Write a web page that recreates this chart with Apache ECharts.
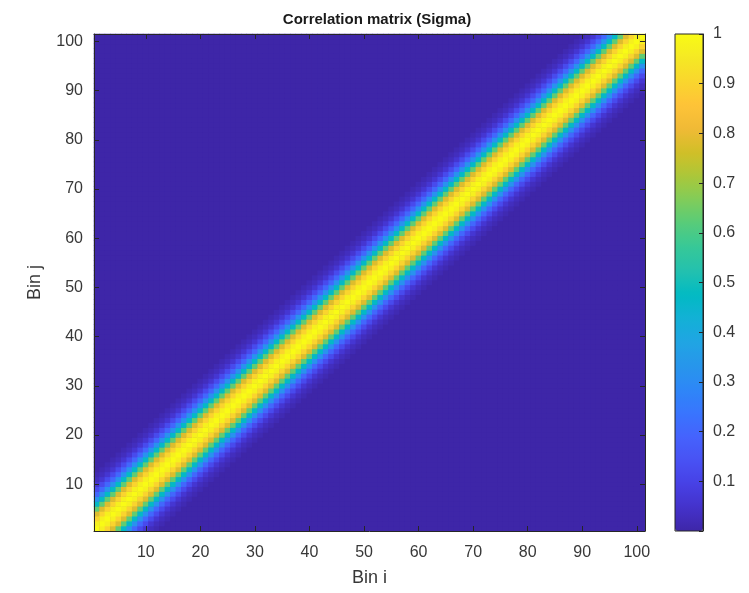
<!DOCTYPE html>
<html>
<head>
<meta charset="utf-8">
<script src="https://cdn.jsdelivr.net/npm/echarts@6/dist/echarts.min.js"></script>
<style>
  html, body { margin: 0; padding: 0; background: #ffffff; }
  #chart { width: 749px; height: 593px; }
</style>
</head>
<body>
<div id="chart"></div>
<script>
// Bin indices used on both axes (1 ... 101)
const bins = [];
for (let b = 1; b <= 101; b++) bins.push(String(b));

// Correlation between two bins as a function of their separation |i - j|
const corrByLag = [1.00, 0.97, 0.90, 0.78, 0.63, 0.47, 0.32, 0.20, 0.12, 0.06, 0.03, 0.015];

// Labelled ticks on the matrix axes and on the colour bar
const axisTicks = [10, 20, 30, 40, 50, 60, 70, 80, 90, 100];
const colorbarTicks = [0.1, 0.2, 0.3, 0.4, 0.5, 0.6, 0.7, 0.8, 0.9, 1];

// Parula colour map
const parula = [
  '#3e26a8', '#4432cb', '#4741e5', '#4852f4', '#4563fd', '#3875fe',
  '#2e87f7', '#2796eb', '#20a5e3', '#12b1d6', '#02bac3', '#24c1ae',
  '#37c897', '#57cc7a', '#81cc59', '#abc739', '#d1bf27', '#f0ba36',
  '#fec338', '#fad62d', '#f5e924', '#f9fb15'
];

// Symmetric Toeplitz matrix: cell (i, j) takes the correlation for lag |i - j|
const cells = [];
for (let i = 0; i < bins.length; i++) {
  for (let j = 0; j < bins.length; j++) {
    const lag = Math.abs(i - j);
    cells.push([i, j, lag < corrByLag.length ? corrByLag[lag] : 0]);
  }
}

const ink = '#262626';
const textInk = '#383838';
const font = '"Liberation Sans", Arial, Helvetica, sans-serif';
const isTick = (idx, val) => axisTicks.indexOf(Number(val)) !== -1;

function matrixAxis(position, withLabels, extra) {
  return Object.assign({
    type: 'category',
    data: bins,
    gridIndex: 0,
    position: position,
    boundaryGap: true,
    z: 5,
    axisLine: { show: true, onZero: false, lineStyle: { color: ink, width: 1 } },
    axisTick: { show: true, inside: true, length: 5, alignWithLabel: true, interval: isTick,
                lineStyle: { color: ink, width: 1 } },
    axisLabel: { show: withLabels, interval: isTick, color: textInk, fontSize: 16,
                 fontFamily: font, margin: 14 },
    splitLine: { show: false }
  }, extra || {});
}

const chart = echarts.init(document.getElementById('chart'), null, { renderer: 'canvas' });

chart.setOption({
  animation: false,
  backgroundColor: '#ffffff',
  title: {
    text: 'Correlation matrix (Sigma)',
    left: 372,
    textAlign: 'center',
    top: 7,
    textStyle: { fontFamily: font, fontSize: 15, fontWeight: 'bold', color: '#1a1a1a' }
  },
  grid: [
    { left: 94, top: 34, width: 551, height: 497, show: true,
      backgroundColor: parula[0], borderWidth: 0 },
    { left: 675, top: 34, width: 28, height: 497, show: true, z: 10,
      backgroundColor: 'transparent', borderColor: ink, borderWidth: 1 }
  ],
  xAxis: [
    matrixAxis('bottom', true, {
      name: 'Bin i', nameLocation: 'middle', nameGap: 38,
      nameTextStyle: { fontFamily: font, fontSize: 18, color: textInk }
    }),
    matrixAxis('top', false),
    { type: 'value', gridIndex: 1, show: false, min: 0, max: 1 }
  ],
  yAxis: [
    matrixAxis('left', true, {
      name: 'Bin j', nameLocation: 'middle', nameGap: 50, nameRotate: 90,
      nameTextStyle: { fontFamily: font, fontSize: 18, color: textInk },
      axisLabel: { show: true, interval: isTick, color: textInk, fontSize: 16,
                   fontFamily: font, margin: 11, padding: [7, 0, 0, 0] }
    }),
    matrixAxis('right', false),
    {
      type: 'value', gridIndex: 1, position: 'right', min: 0, max: 1, interval: 0.1, z: 11,
      axisLine: { show: true, onZero: false, lineStyle: { color: ink, width: 1 } },
      axisTick: { show: true, inside: true, length: 4, lineStyle: { color: ink } },
      axisLabel: {
        color: textInk, fontSize: 16, fontFamily: font, margin: 10, padding: [4, 0, 0, 0],
        formatter: v => (colorbarTicks.some(t => Math.abs(t - v) < 1e-9) ? String(+v.toFixed(1)) : '')
      },
      splitLine: { show: false }
    }
  ],
  visualMap: {
    type: 'continuous',
    seriesIndex: 0,
    min: 0,
    max: 1,
    calculable: false,
    orient: 'vertical',
    left: 675,
    top: 34,
    padding: 0,
    itemWidth: 28,
    itemHeight: 497,
    inRange: { color: parula },
    z: 4
  },
  series: [{
    type: 'heatmap',
    xAxisIndex: 0,
    yAxisIndex: 0,
    data: cells,
    progressive: 0,
    emphasis: { disabled: true },
    z: 2
  }]
});
</script>
</body>
</html>
